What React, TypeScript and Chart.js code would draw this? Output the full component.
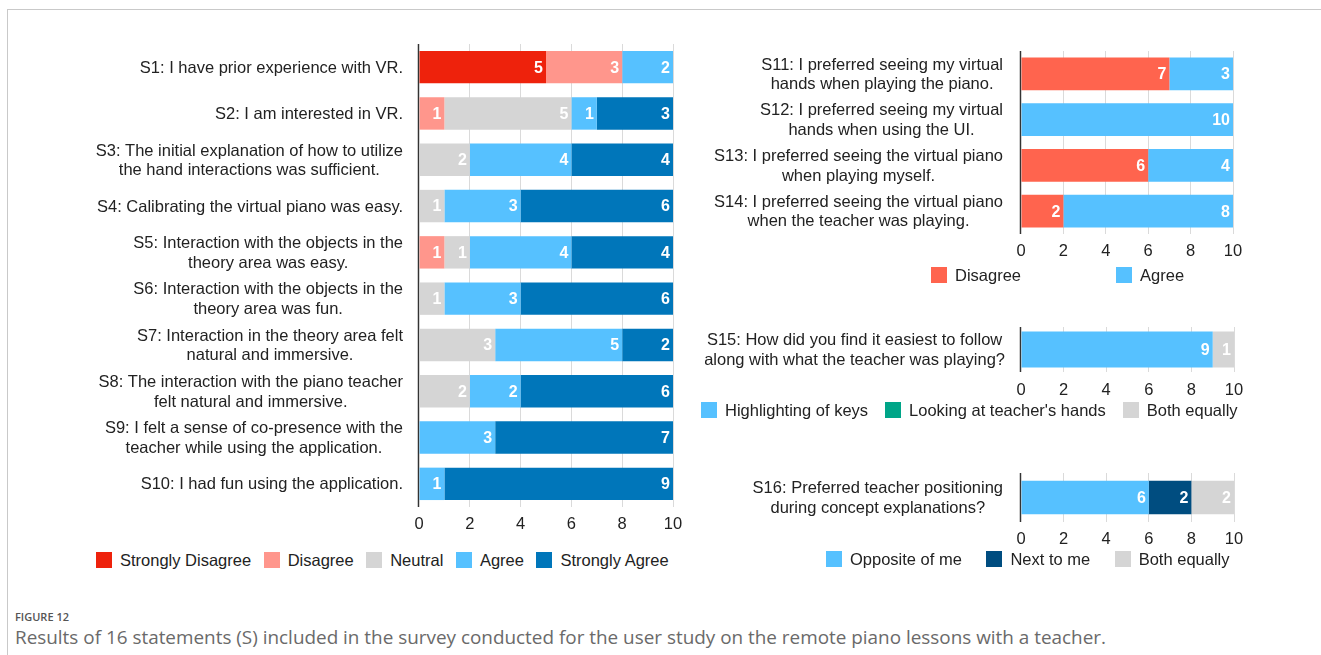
import React, { useEffect, useRef } from 'react';
import { Chart, registerables } from 'chart.js';

Chart.register(...registerables);

const FONT = '"Liberation Sans", Arial, Helvetica, sans-serif';

// ---------- Data ----------
const leftStatements: string[][] = [
  ['S1: I have prior experience with VR.'],
  ['S2: I am interested in VR.'],
  ['S3: The initial explanation of how to utilize', 'the hand interactions was sufficient.'],
  ['S4: Calibrating the virtual piano was easy.'],
  ['S5: Interaction with the objects in the', 'theory area was easy.'],
  ['S6: Interaction with the objects in the', 'theory area was fun.'],
  ['S7: Interaction in the theory area felt', 'natural and immersive.'],
  ['S8: The interaction with the piano teacher', 'felt natural and immersive.'],
  ['S9: I felt a sense of co-presence with the', 'teacher while using the application.'],
  ['S10: I had fun using the application.'],
];
const likertSeries = ['Strongly Disagree', 'Disagree', 'Neutral', 'Agree', 'Strongly Agree'];
const stronglyDisagree = [5, 0, 0, 0, 0, 0, 0, 0, 0, 0];
const disagree = [3, 1, 0, 0, 1, 0, 0, 0, 0, 0];
const neutral = [0, 5, 2, 1, 1, 1, 3, 2, 0, 0];
const agree = [2, 1, 4, 3, 4, 3, 5, 2, 3, 1];
const stronglyAgree = [0, 3, 4, 6, 4, 6, 2, 6, 7, 9];

const prefStatements: string[][] = [
  ['S11: I preferred seeing my virtual', 'hands when playing the piano.'],
  ['S12: I preferred seeing my virtual', 'hands when using the UI.'],
  ['S13: I preferred seeing the virtual piano', 'when playing myself.'],
  ['S14: I preferred seeing the virtual piano', 'when the teacher was playing.'],
];
const prefSeries = ['Disagree', 'Agree'];
const prefDisagree = [7, 0, 6, 2];
const prefAgree = [3, 10, 4, 8];

const followStatement: string[][] = [
  ['S15: How did you find it easiest to follow', 'along with what the teacher was playing?'],
];
const followSeries = ['Highlighting of keys', "Looking at teacher's hands", 'Both equally'];
const highlighting = [9];
const teacherHands = [0];
const followBoth = [1];

const positionStatement: string[][] = [
  ['S16: Preferred teacher positioning', 'during concept explanations?'],
];
const positionSeries = ['Opposite of me', 'Next to me', 'Both equally'];
const oppositeOfMe = [6];
const nextToMe = [2];
const positionBoth = [2];

const xTickMin = 0;
const xTickMax = 10;
const xTickStep = 2;

// ---------- Styles ----------
const C_SDIS = '#EE220C';
const C_DIS = '#FF968C';
const C_NEU = '#D5D5D5';
const C_AGR = '#56C1FF';
const C_SAGR = '#0076BA';
const C_PDIS = '#FF644E';
const C_GREEN = '#00A588';
const C_NAVY = '#004D80';

type DS = { label: string; data: number[]; color: string };
type Panel = {
  box: [number, number, number, number];
  plot: [number, number, number, number];
  labels: string[][];
  datasets: DS[];
  bar: number;
  tickPad: number;
  labelGap: number;
};

const AXIS_H = 30;

function BarPanel({ panel }: { panel: Panel }) {
  const ref = useRef<HTMLCanvasElement | null>(null);
  useEffect(() => {
    const [bl, bt, bw, bh] = panel.box;
    const [pl, pt, pr, pb] = panel.plot;
    const textPlugin = {
      id: 'panelText',
      afterDatasetsDraw(chart: any) {
        const { ctx, chartArea } = chart;
        const xs = chart.scales.x;
        const ys = chart.scales.y;
        ctx.save();
        const x0 = xs.getPixelForValue(0);
        ctx.strokeStyle = '#333';
        ctx.lineWidth = 1.3;
        ctx.beginPath();
        ctx.moveTo(x0 - 0.6, chartArea.top);
        ctx.lineTo(x0 - 0.6, chartArea.bottom);
        ctx.stroke();
        // value labels
        ctx.font = `bold 16px ${FONT}`;
        ctx.fillStyle = '#ffffff';
        ctx.textAlign = 'right';
        ctx.textBaseline = 'middle';
        chart.data.datasets.forEach((ds: any, di: number) => {
          const meta = chart.getDatasetMeta(di);
          meta.data.forEach((el: any, i: number) => {
            const v = ds.data[i];
            if (!v) return;
            ctx.fillText(String(v), el.x - 3, el.y + 1);
          });
        });
        // category labels
        ctx.font = `16.5px ${FONT}`;
        ctx.fillStyle = '#222';
        ctx.textAlign = 'center';
        panel.labels.forEach((lines, i) => {
          const cy = ys.getPixelForValue(i);
          const w = Math.max(...lines.map((l) => ctx.measureText(l).width));
          const cx = x0 - panel.labelGap - w / 2;
          lines.forEach((l, k) => {
            ctx.fillText(l, cx, cy + 1 + (k - (lines.length - 1) / 2) * 19.5);
          });
        });
        ctx.restore();
      },
    };
    const chart = new Chart(ref.current as HTMLCanvasElement, {
      type: 'bar',
      data: {
        labels: panel.labels.map((l) => l.join(' ')),
        datasets: panel.datasets.map((d) => ({
          label: d.label,
          data: d.data,
          backgroundColor: d.color,
          borderWidth: 0,
          barPercentage: panel.bar,
          categoryPercentage: 1,
        })),
      },
      options: {
        indexAxis: 'y',
        responsive: false,
        maintainAspectRatio: false,
        animation: false,
        events: [],
        layout: {
          padding: {
            left: pl - bl,
            top: pt - bt,
            right: bl + bw - pr,
            bottom: bt + bh - pb - AXIS_H,
          },
        },
        plugins: { legend: { display: false }, tooltip: { enabled: false } },
        scales: {
          x: {
            stacked: true,
            min: xTickMin,
            max: xTickMax,
            ticks: {
              stepSize: xTickStep,
              color: '#222',
              font: { family: FONT, size: 16.5 },
              padding: panel.tickPad,
            },
            grid: { color: '#dadada', drawTicks: false, lineWidth: 1 },
            border: { display: false },
            afterFit: (s: any) => {
              s.height = AXIS_H;
            },
          },
          y: { stacked: true, display: false },
        },
      } as any,
      plugins: [textPlugin],
    });
    return () => chart.destroy();
  }, [panel]);
  const [bl, bt, bw, bh] = panel.box;
  return (
    <canvas
      ref={ref}
      width={bw}
      height={bh}
      style={{ position: 'absolute', left: bl, top: bt, width: bw, height: bh }}
    />
  );
}

function Legend({ items, colors, left, cy, gap }: { items: string[]; colors: string[]; left: number; cy: number; gap: number }) {
  return (
    <div
      style={{
        position: 'absolute',
        left,
        top: cy - 10,
        height: 20,
        display: 'flex',
        alignItems: 'center',
        gap,
        whiteSpace: 'nowrap',
        fontFamily: FONT,
        fontSize: 16.5,
        color: '#222',
      }}
    >
      {items.map((t, i) => (
        <div key={t + i} style={{ display: 'flex', alignItems: 'center' }}>
          <span style={{ display: 'inline-block', width: 16, height: 16, background: colors[i], marginRight: 8 }} />
          <span>{t}</span>
        </div>
      ))}
    </div>
  );
}

const leftPanel: Panel = {
  box: [40, 30, 680, 520],
  plot: [419, 44, 673, 507],
  labels: leftStatements,
  datasets: [
    { label: likertSeries[0], data: stronglyDisagree, color: C_SDIS },
    { label: likertSeries[1], data: disagree, color: C_DIS },
    { label: likertSeries[2], data: neutral, color: C_NEU },
    { label: likertSeries[3], data: agree, color: C_AGR },
    { label: likertSeries[4], data: stronglyAgree, color: C_SAGR },
  ],
  bar: 0.7,
  tickPad: 8,
  labelGap: 16,
};

const prefPanel: Panel = {
  box: [690, 36, 580, 240],
  plot: [1021, 51, 1233, 234],
  labels: prefStatements,
  datasets: [
    { label: prefSeries[0], data: prefDisagree, color: C_PDIS },
    { label: prefSeries[1], data: prefAgree, color: C_AGR },
  ],
  bar: 0.72,
  tickPad: 8,
  labelGap: 18,
};

const followPanel: Panel = {
  box: [690, 312, 580, 100],
  plot: [1021, 327, 1234, 372],
  labels: followStatement,
  datasets: [
    { label: followSeries[0], data: highlighting, color: C_AGR },
    { label: followSeries[1], data: teacherHands, color: C_GREEN },
    { label: followSeries[2], data: followBoth, color: C_NEU },
  ],
  bar: 0.8,
  tickPad: 9,
  labelGap: 16,
};

const positionPanel: Panel = {
  box: [690, 460, 580, 100],
  plot: [1021, 473, 1234, 522],
  labels: positionStatement,
  datasets: [
    { label: positionSeries[0], data: oppositeOfMe, color: C_AGR },
    { label: positionSeries[1], data: nextToMe, color: C_NAVY },
    { label: positionSeries[2], data: positionBoth, color: C_NEU },
  ],
  bar: 0.68,
  tickPad: 8,
  labelGap: 18,
};

export default function App() {
  return (
    <div
      style={{
        position: 'absolute',
        left: 0,
        top: 0,
        width: 1321,
        height: 655,
        overflow: 'hidden',
        background: '#fff',
      }}
    >
      <div
        style={{
          position: 'absolute',
          left: 7,
          top: 9,
          width: 1400,
          height: 700,
          borderTop: '1px solid #c9c9c9',
          borderLeft: '1px solid #c9c9c9',
        }}
      />
      <BarPanel panel={leftPanel} />
      <BarPanel panel={prefPanel} />
      <BarPanel panel={followPanel} />
      <BarPanel panel={positionPanel} />
      <Legend items={likertSeries} colors={[C_SDIS, C_DIS, C_NEU, C_AGR, C_SAGR]} left={96} cy={560} gap={12.5} />
      <Legend items={prefSeries} colors={[C_PDIS, C_AGR]} left={931} cy={275} gap={95} />
      <Legend items={followSeries} colors={[C_AGR, C_GREEN, C_NEU]} left={701} cy={410} gap={17} />
      <Legend items={positionSeries} colors={[C_AGR, C_NAVY, C_NEU]} left={826} cy={559} gap={24.5} />
      <div
        style={{
          position: 'absolute',
          left: 15,
          top: 609,
          fontFamily: '"Open Sans", "Noto Sans", sans-serif',
          fontSize: 11,
          fontWeight: 600,
          color: '#555',
          lineHeight: '16px',
          whiteSpace: 'nowrap',
        }}
      >
        FIGURE 12
      </div>
      <div
        style={{
          position: 'absolute',
          left: 15,
          top: 625,
          fontFamily: '"Open Sans", "Noto Sans", sans-serif',
          fontSize: 18.9,
          color: '#6a6a6a',
          lineHeight: '24px',
          whiteSpace: 'nowrap',
        }}
      >
        Results of 16 statements (S) included in the survey conducted for the user study on the remote piano lessons with a teacher.
      </div>
    </div>
  );
}
